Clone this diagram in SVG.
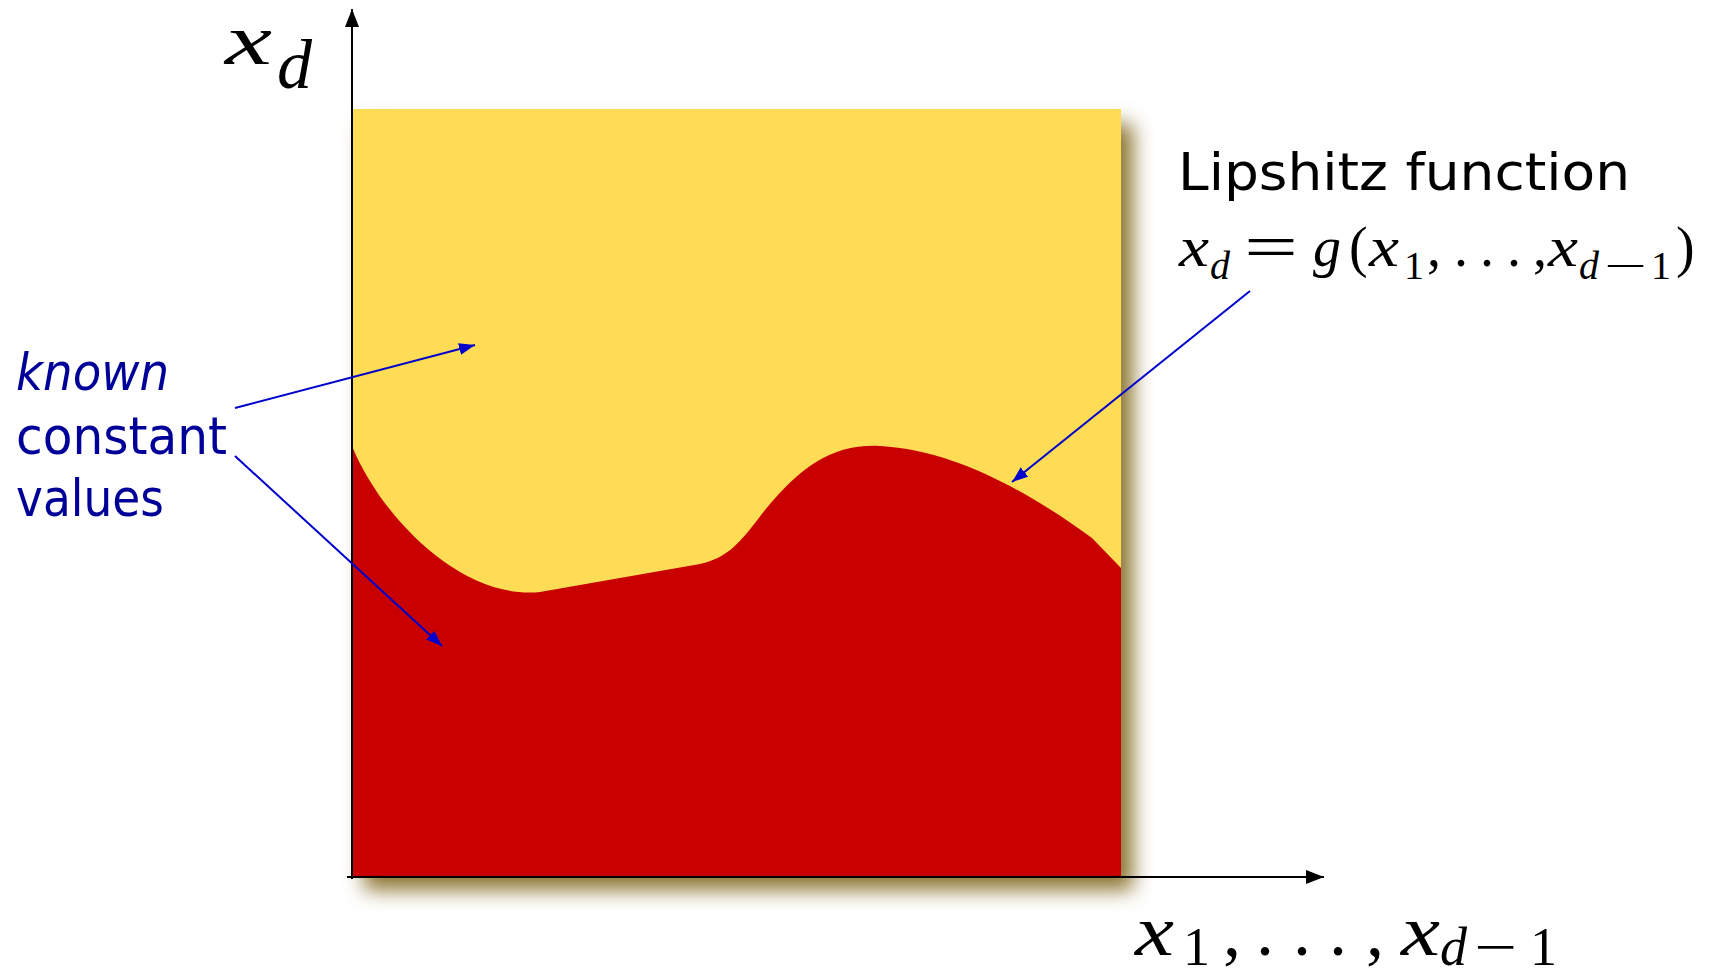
<svg xmlns="http://www.w3.org/2000/svg" width="1712" height="977" viewBox="0 0 1712 977">
<style>
.m{font-family:"Liberation Serif","DejaVu Serif",serif;fill:#000}
.i{font-style:italic}
.lab{font-family:"DejaVu Sans",sans-serif;fill:#000099}
.ax{stroke:#000;stroke-width:2;fill:none}
.bl{stroke:#0000cc;stroke-width:2;fill:none}
</style>
<defs>
<filter id="sh" x="-20%" y="-20%" width="140%" height="140%"><feGaussianBlur stdDeviation="10"/></filter>
<marker id="ak" markerUnits="userSpaceOnUse" markerWidth="20" markerHeight="14" refX="18" refY="7" orient="auto"><path d="M0,0 L18,7 L0,14 Z" fill="#000"/></marker>
<marker id="ab" markerUnits="userSpaceOnUse" markerWidth="18" markerHeight="12" refX="16" refY="6" orient="auto"><path d="M0,0 L16,6 L0,12 Z" fill="#0000cc"/></marker>
</defs>
<g id="plot">
<rect x="364" y="124" width="769" height="766" fill="#8c7432" filter="url(#sh)"/>
<rect x="352" y="109" width="769" height="768" fill="#fedc56"/>
<path d="M352,446 C380,515 460,600 540,592 L700,564 C728,558 740,543 765,510 C802,466 832,444 880,446 C960,450 1040,500 1092,538 L1121,568 L1121,877 L352,877 Z" fill="#c80000"/>
</g>
<g id="axes">
<line class="ax" x1="352" y1="879" x2="352" y2="9" marker-end="url(#ak)"/>
<line class="ax" x1="347" y1="877" x2="1324" y2="877" marker-end="url(#ak)"/>
</g>
<g id="connectors">
<line class="bl" x1="235" y1="408" x2="475" y2="345" marker-end="url(#ab)"/>
<line class="bl" x1="235" y1="456" x2="442" y2="646" marker-end="url(#ab)"/>
<line class="bl" x1="1250" y1="291" x2="1012" y2="482" marker-end="url(#ab)"/>
</g>
<g id="label-xd">
<text class="m i" x="225" y="64" font-size="72" textLength="47" lengthAdjust="spacingAndGlyphs">x</text>
<text class="m i" x="277" y="88" font-size="70">d</text>
</g>
<g id="label-known">
<text class="lab" x="16" y="390" font-size="52" font-style="italic" textLength="153" lengthAdjust="spacingAndGlyphs">known</text>
<text class="lab" x="16" y="454" font-size="52" textLength="211" lengthAdjust="spacingAndGlyphs">constant</text>
<text class="lab" x="16" y="516" font-size="52" textLength="148" lengthAdjust="spacingAndGlyphs">values</text>
</g>
<g id="label-lipshitz">
<text x="1178" y="190" font-family="DejaVu Sans, sans-serif" font-size="52" textLength="452" lengthAdjust="spacingAndGlyphs">Lipshitz function</text>
<text class="m i" x="1179" y="266" font-size="56" textLength="30" lengthAdjust="spacingAndGlyphs">x</text>
<text class="m i" x="1210" y="279" font-size="40">d</text>
<text class="m" x="1244" y="268" font-size="64" textLength="54" lengthAdjust="spacingAndGlyphs">=</text>
<text class="m i" x="1313" y="266" font-size="56">g</text>
<text class="m" x="1349" y="266" font-size="56">(</text>
<text class="m i" x="1369" y="266" font-size="56" textLength="30" lengthAdjust="spacingAndGlyphs">x</text>
<text class="m" x="1404" y="279" font-size="40">1</text>
<text class="m" x="1427" y="266" font-size="56">,</text>
<text class="m" x="1454" y="266" font-size="56">.</text>
<text class="m" x="1480" y="266" font-size="56">.</text>
<text class="m" x="1507" y="266" font-size="56">.</text>
<text class="m" x="1533" y="266" font-size="56">,</text>
<text class="m i" x="1548" y="266" font-size="56" textLength="30" lengthAdjust="spacingAndGlyphs">x</text>
<text class="m i" x="1579" y="279" font-size="40">d</text>
<text class="m" x="1604" y="279" font-size="40" textLength="43" lengthAdjust="spacingAndGlyphs">−</text>
<text class="m" x="1651" y="279" font-size="40">1</text>
<text class="m" x="1676" y="266" font-size="56">)</text>
</g>
<g id="label-x1">
<text class="m i" x="1135" y="955" font-size="72" textLength="39" lengthAdjust="spacingAndGlyphs">x</text>
<text class="m" x="1183" y="965" font-size="54">1</text>
<text class="m" x="1223" y="955" font-size="72">,</text>
<text class="m" x="1256" y="955" font-size="72">.</text>
<text class="m" x="1293" y="955" font-size="72">.</text>
<text class="m" x="1329" y="955" font-size="72">.</text>
<text class="m" x="1366" y="955" font-size="72">,</text>
<text class="m i" x="1401" y="955" font-size="72" textLength="39" lengthAdjust="spacingAndGlyphs">x</text>
<text class="m i" x="1440" y="965" font-size="54">d</text>
<text class="m" x="1474" y="965" font-size="54" textLength="43" lengthAdjust="spacingAndGlyphs">−</text>
<text class="m" x="1530" y="965" font-size="54">1</text>
</g>
</svg>
